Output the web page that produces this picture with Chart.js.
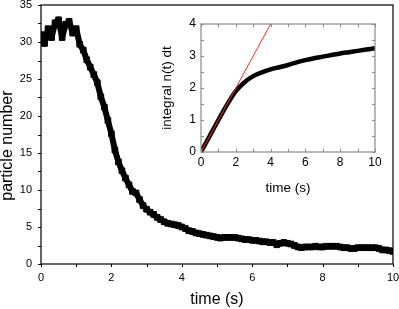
<!DOCTYPE html>
<html>
<head>
<meta charset="utf-8">
<script src="https://cdn.jsdelivr.net/npm/chart.js@4.4.1/dist/chart.umd.min.js"></script>
<style>
  body { margin: 0; background: #fff; }
  #wrap { position: relative; width: 399px; height: 309px; }
  #main { position: absolute; left: 0; top: 0; }
  #inset { position: absolute; left: 150px; top: 14px; }
</style>
</head>
<body>
<div id="wrap">
  <canvas id="main" width="399" height="309"></canvas>
  <canvas id="inset" width="232" height="186"></canvas>
</div>
<script>
// particle number, one reading every 0.1 s from 0 to 10 s
var counts = [
  31.0, 29.8, 31.8, 30.6, 32.6, 33.0, 30.6, 32.4, 32.8, 31.2,
  31.8, 29.7, 28.9, 27.6, 26.6, 25.6, 24.5, 22.6, 21.2, 19.4,
  17.6, 15.4, 13.8, 12.6, 11.6, 10.7, 9.8, 9.6, 8.7, 7.9,
  7.4, 7.0, 6.7, 6.3, 6.0, 5.7, 5.5, 5.4, 5.3, 5.2,
  5.0, 4.8, 4.5, 4.4, 4.2, 4.1, 4.0, 3.9, 3.8, 3.7,
  3.6, 3.5, 3.6, 3.6, 3.6, 3.6, 3.5, 3.4, 3.3, 3.3,
  3.2, 3.2, 3.1, 3.0, 3.0, 2.9, 2.9, 2.6, 2.8, 2.9,
  2.8, 2.7, 2.5, 2.3, 2.2, 2.3, 2.3, 2.3, 2.4, 2.3,
  2.3, 2.4, 2.4, 2.4, 2.4, 2.3, 2.2, 2.2, 2.1, 2.1,
  2.2, 2.2, 2.2, 2.2, 2.2, 2.2, 2.1, 1.9, 1.9, 1.8,
  1.7
];
var times = counts.map(function(v, i){ return i / 10; });

// inset: integral n(t) dt
var intTimes = [0, 0.5, 1, 1.5, 2, 2.5, 3, 3.5, 4, 4.5, 5, 5.5, 6, 6.5, 7, 7.5, 8, 8.5, 9, 9.5, 10];
var intValues = [0, 0.5, 1.0, 1.48, 1.9, 2.18, 2.37, 2.49, 2.58, 2.65, 2.72, 2.80, 2.87, 2.93, 2.98, 3.03, 3.08, 3.12, 3.16, 3.20, 3.24];
// initial slope line
var fitTimes = [0, 4.2];
var fitValues = [0, 4.2];

var mainXTicks = [0, 2, 4, 6, 8, 10];
var mainYTicks = [0, 5, 10, 15, 20, 25, 30, 35];
var insetXTicks = [0, 2, 4, 6, 8, 10];
var insetYTicks = [0, 1, 2, 3, 4];

var FONT = "'Liberation Sans', Arial, sans-serif";

function pts(xs, ys) {
  return xs.map(function(x, i){ return {x: x, y: ys[i]}; });
}

function fixSize(w, h) {
  return function(scale) {
    if (w != null) scale.width = w;
    if (h != null) scale.height = h;
    scale.paddingTop = 0; scale.paddingBottom = 0;
    scale.paddingLeft = 0; scale.paddingRight = 0;
  };
}

// frame + tick marks drawn through the scales
var frameTicks = {
  id: "frameTicks",
  afterDraw: function(chart, args, o) {
    var ctx = chart.ctx, a = chart.chartArea;
    var xs = chart.scales.x, ys = chart.scales.y;
    ctx.save();
    ctx.strokeStyle = o.color;
    ctx.lineWidth = o.width;
    ctx.strokeRect(a.left, a.top, a.right - a.left, a.bottom - a.top);
    ctx.lineWidth = 1;
    ctx.beginPath();
    var v, p, d = o.inside ? -1 : 1;
    for (v = xs.min; v <= xs.max + 1e-9; v += o.xStep) {
      p = Math.round(xs.getPixelForValue(v)) + 0.5;
      ctx.moveTo(p, a.bottom); ctx.lineTo(p, a.bottom + d * o.len);
      if (o.inside) { ctx.moveTo(p, a.top); ctx.lineTo(p, a.top + o.len); }
    }
    for (v = ys.min; v <= ys.max + 1e-9; v += o.yStep) {
      p = Math.round(ys.getPixelForValue(v)) + 0.5;
      ctx.moveTo(a.left, p); ctx.lineTo(a.left - d * o.len, p);
      if (o.inside) { ctx.moveTo(a.right, p); ctx.lineTo(a.right - o.len, p); }
    }
    ctx.stroke();
    ctx.restore();
  }
};

new Chart(document.getElementById("main"), {
  type: "scatter",
  data: {
    datasets: [{
      data: pts(times, counts),
      showLine: true,
      borderColor: "#000",
      borderWidth: 6,
      borderJoinStyle: "round",
      backgroundColor: "#000",
      pointStyle: "rect",
      pointRadius: 4,
      pointBorderWidth: 1
    }]
  },
  options: {
    responsive: false,
    animation: false,
    layout: { padding: { top: 5, right: 6, left: 0, bottom: 0 } },
    plugins: {
      legend: { display: false },
      tooltip: { enabled: false },
      frameTicks: { color: "#000", width: 1.2, len: 3, inside: false, xStep: 1, yStep: 2.5 }
    },
    scales: {
      x: {
        type: "linear", min: 0, max: 10,
        afterFit: fixSize(null, 45),
        afterBuildTicks: function(s){ s.ticks = mainXTicks.map(function(v){ return {value: v}; }); },
        grid: { display: false, drawTicks: false },
        border: { display: false },
        ticks: { color: "#000", font: { family: FONT, size: 11 }, padding: 7, maxRotation: 0 },
        title: { display: true, text: "time (s)", color: "#000", font: { family: FONT, size: 16 }, padding: { top: 0, bottom: 0 } }
      },
      y: {
        type: "linear", min: 0, max: 35,
        afterFit: fixSize(41, null),
        afterBuildTicks: function(s){ s.ticks = mainYTicks.map(function(v){ return {value: v}; }); },
        grid: { display: false, drawTicks: false },
        border: { display: false },
        ticks: { color: "#000", font: { family: FONT, size: 11 }, padding: 9 },
        title: { display: true, text: "particle number     ", color: "#000", font: { family: FONT, size: 16, lineHeight: 1 }, padding: { top: 0, bottom: 0 } }
      }
    }
  },
  plugins: [frameTicks]
});

new Chart(document.getElementById("inset"), {
  type: "scatter",
  data: {
    datasets: [{
      data: pts(fitTimes, fitValues),
      showLine: true,
      borderColor: "#ff2a2a",
      borderWidth: 1,
      pointRadius: 0
    }, {
      data: pts(intTimes, intValues),
      showLine: true,
      borderColor: "#000",
      borderWidth: 4.5,
      cubicInterpolationMode: "monotone",
      pointRadius: 0
    }]
  },
  options: {
    responsive: false,
    animation: false,
    layout: { padding: { top: 10, right: 7, left: 0, bottom: 0 } },
    plugins: {
      legend: { display: false },
      tooltip: { enabled: false },
      frameTicks: { color: "#8a8a8a", width: 1.2, len: 3, inside: true, xStep: 1, yStep: 0.5 }
    },
    scales: {
      x: {
        type: "linear", min: 0, max: 10,
        afterFit: fixSize(null, 48),
        afterBuildTicks: function(s){ s.ticks = insetXTicks.map(function(v){ return {value: v}; }); },
        grid: { display: false, drawTicks: false },
        border: { display: false },
        ticks: { color: "#000", font: { family: FONT, size: 12 }, padding: 3, maxRotation: 0 },
        title: { display: true, text: "time (s)", color: "#000", font: { family: FONT, size: 13.5 }, padding: { top: 0, bottom: 4 } }
      },
      y: {
        type: "linear", min: 0, max: 4,
        afterFit: fixSize(51, null),
        afterBuildTicks: function(s){ s.ticks = insetYTicks.map(function(v){ return {value: v}; }); },
        grid: { display: false, drawTicks: false },
        border: { display: false },
        ticks: { color: "#000", font: { family: FONT, size: 12 }, padding: 5 },
        title: { display: true, text: "integral n(t) dt", color: "#000", font: { family: FONT, size: 13.5 }, padding: { top: 9, bottom: 0 } }
      }
    }
  },
  plugins: [frameTicks]
});
</script>
</body>
</html>
